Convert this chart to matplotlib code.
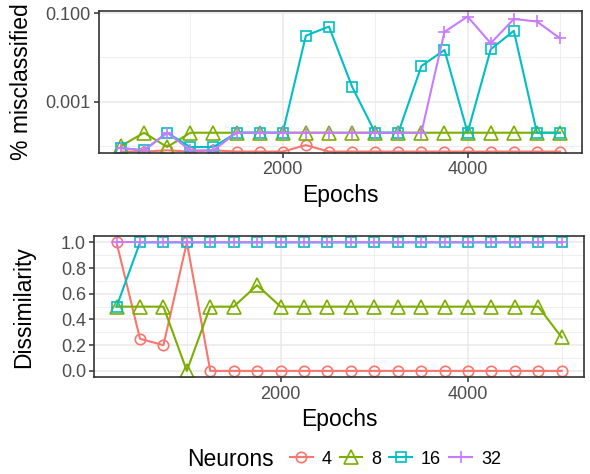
import numpy as np
import matplotlib
matplotlib.use("Agg")
import matplotlib.pyplot as plt
from matplotlib.ticker import FixedLocator, FixedFormatter, NullFormatter

plt.rcParams['font.family'] = ['Liberation Sans', 'DejaVu Sans']

# epochs 250 .. 5000
epochs = [250, 500, 750, 1000, 1250, 1500, 1750, 2000, 2250, 2500,
          2750, 3000, 3250, 3500, 3750, 4000, 4250, 4500, 4750, 5000]

neurons = ['4', '8', '16', '32']
colors = ['#F8766D', '#7CAE00', '#00BFC4', '#C77CFF']
markers = ['o', '^', 's', '+']
msizes = [7.5, 9.5, 7.5, 9]

# % misclassified (log scale)
miss_4 = [7.5e-5, 7.5e-5, 8.0e-5, 7.5e-5, 8.0e-5, 7.5e-5, 7.5e-5, 7.5e-5, 1.05e-4, 7.5e-5,
          7.5e-5, 7.5e-5, 7.5e-5, 7.5e-5, 7.5e-5, 7.5e-5, 7.5e-5, 7.5e-5, 7.5e-5, 7.5e-5]
miss_8 = [1.0e-4, 2.0e-4, 9.5e-5, 2.0e-4, 2.0e-4, 2.0e-4, 2.0e-4, 2.0e-4, 2.0e-4, 2.0e-4,
          2.0e-4, 2.0e-4, 2.0e-4, 2.0e-4, 2.0e-4, 2.0e-4, 2.0e-4, 2.0e-4, 2.0e-4, 2.0e-4]
miss_16 = [9.0e-5, 8.0e-5, 2.0e-4, 9.5e-5, 9.5e-5, 2.0e-4, 2.0e-4, 2.0e-4, 0.031, 0.050,
           0.0022, 2.0e-4, 2.0e-4, 0.0064, 0.0148, 2.0e-4, 0.0153, 0.040, 2.0e-4, 2.0e-4]
miss_32 = [9.0e-5, 8.0e-5, 2.0e-4, 8.0e-5, 8.0e-5, 2.0e-4, 2.0e-4, 2.0e-4, 2.0e-4, 2.0e-4,
           2.0e-4, 2.0e-4, 2.0e-4, 2.0e-4, 0.038, 0.084, 0.021, 0.074, 0.065, 0.027]

# dissimilarity
dis_4 = [1.0, 0.25, 0.2, 1.0, 0, 0, 0, 0, 0, 0,
         0, 0, 0, 0, 0, 0, 0, 0, 0, 0]
dis_8 = [0.5, 0.5, 0.5, 0.0, 0.5, 0.5, 0.667, 0.5, 0.5, 0.5,
         0.5, 0.5, 0.5, 0.5, 0.5, 0.5, 0.5, 0.5, 0.5, 0.26]
dis_16 = [0.5, 1, 1, 1, 1, 1, 1, 1, 1, 1,
          1, 1, 1, 1, 1, 1, 1, 1, 1, 1]
dis_32 = [1, 1, 1, 1, 1, 1, 1, 1, 1, 1,
          1, 1, 1, 1, 1, 1, 1, 1, 1, 1]

miss = [miss_4, miss_8, miss_16, miss_32]
dis = [dis_4, dis_8, dis_16, dis_32]

W, H = 590, 474
fig = plt.figure(figsize=(W / 100, H / 100), dpi=100)

def px_axes(left, top, right, bottom):
    return fig.add_axes([left / W, 1 - bottom / H, (right - left) / W, (bottom - top) / H])

ax1 = px_axes(99, 11, 582, 152.7)
ax2 = px_axes(94.3, 236, 584, 377.3)

dark = '#333333'
grid_c = '#EBEBEB'

def style(ax):
    ax.set_facecolor('white')
    for s in ax.spines.values():
        s.set_color(dark)
        s.set_linewidth(1.2)
    ax.tick_params(axis='both', which='major', length=3.5, width=1.1, color=dark,
                   labelsize=13, labelcolor='#4D4D4D', pad=2.5)
    ax.tick_params(axis='both', which='minor', length=0)
    ax.grid(True, which='major', color=grid_c, lw=1.2)
    ax.grid(True, which='minor', color=grid_c, lw=0.6)
    ax.set_axisbelow(True)
    ax.set_xlim(12.5, 5237.5)
    ax.xaxis.set_major_locator(FixedLocator([2000, 4000]))
    ax.xaxis.set_minor_locator(FixedLocator([1000, 3000, 5000]))
    ax.xaxis.set_minor_formatter(NullFormatter())
    ax.yaxis.set_minor_formatter(NullFormatter())
    ax.set_xlabel('Epochs', fontsize=16.5, labelpad=4)

def draw(ax, series):
    for vals, c, m, s, lab in zip(series, colors, markers, msizes, neurons):
        ax.plot(epochs, vals, color=c, lw=1.5, marker=m, ms=s,
                mfc='none', mec=c, mew=1.2, label=lab)

draw(ax1, miss)
ax1.set_yscale('log')
ax1.set_ylim(10 ** -4.15, 10 ** -0.95)
style(ax1)
ax1.yaxis.set_major_locator(FixedLocator([0.001, 0.1]))
ax1.yaxis.set_major_formatter(FixedFormatter(['0.001', '0.100']))
ax1.yaxis.set_minor_locator(FixedLocator([0.0001, 0.01]))
ax1.yaxis.set_minor_formatter(NullFormatter())
ax1.set_ylabel('% misclassified', fontsize=16.5)
ax1.yaxis.set_label_coords(-0.137, 0.5)

draw(ax2, dis)
ax2.set_ylim(-0.05, 1.05)
style(ax2)
ax2.yaxis.set_major_locator(FixedLocator([0, 0.2, 0.4, 0.6, 0.8, 1.0]))
ax2.yaxis.set_major_formatter(FixedFormatter(['0.0', '0.2', '0.4', '0.6', '0.8', '1.0']))
ax2.yaxis.set_minor_locator(FixedLocator([0.1, 0.3, 0.5, 0.7, 0.9]))
ax2.set_ylabel('Dissimilarity', fontsize=16.5)
ax2.yaxis.set_label_coords(-0.121, 0.5)

# legend at bottom
fig.text(187 / W, 1 - 459 / H, 'Neurons', fontsize=16.5, ha='left', va='center')
handles, labels = ax2.get_legend_handles_labels()
fig.legend(handles, labels, loc='center left', bbox_to_anchor=(290 / W, 1 - 459 / H),
           ncol=4, frameon=False, fontsize=13, handlelength=1.25, handletextpad=0.5,
           columnspacing=0.45, borderpad=0, borderaxespad=0)

fig.savefig('out.png', dpi=100)
